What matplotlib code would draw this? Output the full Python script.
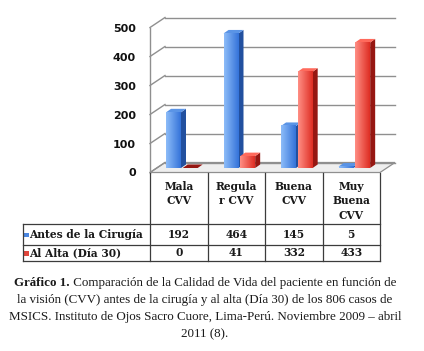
import matplotlib
matplotlib.use("Agg")
import numpy as np
import matplotlib.pyplot as plt
from matplotlib.patches import Polygon, Rectangle
from matplotlib.lines import Line2D
from matplotlib.colors import LinearSegmentedColormap
import matplotlib.transforms as mtransforms

# ---------------- data ----------------
categories = ["Mala\nCVV", "Regula\nr CVV", "Buena\nCVV", "Muy\nBuena\nCVV"]
series_names = ["Antes de la Cirugía", "Al Alta (Día 30)"]
antes = [192, 464, 145, 5]
alta = [0, 41, 332, 433]
yticks = [0, 100, 200, 300, 400, 500]
caption_bold = "Gráfico 1."
caption_lines = [
    " Comparación de la Calidad de Vida del paciente en función de",
    "la visión (CVV) antes de la cirugía y al alta (Día 30) de los 806 casos de",
    "MSICS. Instituto de Ojos Sacro Cuore, Lima-Perú. Noviembre 2009 – abril",
    "2011 (8).",
]

# ---------------- figure ----------------
W, H = 424, 351
fig = plt.figure(figsize=(W / 100, H / 100), dpi=100)
fig.patch.set_facecolor("white")
front0 = 172.5
ax = fig.add_axes([150 / W, (H - front0) / H, 230 / W, 145 / H])
ax.set_xlim(0, 4)
ax.set_ylim(0, 500)
ax.set_autoscale_on(False)
ax.patch.set_visible(False)
for s in ax.spines.values():
    s.set_visible(False)
ax.set_xticks([])
ax.set_yticks(yticks)
ax.set_yticklabels([str(v) for v in yticks], fontsize=8, fontweight="bold",
                   family="DejaVu Sans", color="#111111")
ax.tick_params(axis="y", length=0, pad=10)

PXT = mtransforms.Affine2D().scale(1, -1).translate(0, H)  # figure pixels (y down)
IDT = mtransforms.IdentityTransform()

def disp(xd, yd, dx=0.0, dy=0.0):
    p = ax.transData.transform((xd, yd))
    return (p[0] + dx, p[1] + dy)

BX, BY = 15, 10      # back wall offset
PX_, PY_ = 8, 4.5    # bar plane offset
DX, DY = 5, 3.5      # bar depth
grid_c = "#8f8f8f"

# floor
floor = Polygon([disp(0, 0), disp(4, 0), disp(4, 0, BX, BY), disp(0, 0, BX, BY)],
                closed=True, transform=IDT, facecolor="#eeeeee", edgecolor=grid_c,
                lw=0.9, zorder=1, clip_on=False)
ax.add_patch(floor)

# gridlines (back wall + left diagonals)
for v in yticks:
    ax.add_line(Line2D(*zip(disp(0, v, BX, BY), disp(4, v, BX, BY)), transform=IDT,
                       color=grid_c, lw=1.0, zorder=1.5, clip_on=False))
    ax.add_line(Line2D(*zip(disp(0, v), disp(0, v, BX, BY)), transform=IDT,
                       color=grid_c, lw=1.0, zorder=1.5, clip_on=False))
ax.add_line(Line2D(*zip(disp(0, 0), disp(0, 500)), transform=IDT,
                   color=grid_c, lw=1.0, zorder=1.5, clip_on=False))

# bars
series = [antes, alta]
offsets = [0.14, 0.43]
bw = 0.26
styles = [
    dict(c0="#8dbcf8", c1="#3473da", side="#22509f", top="#5a94e6", key="#4a86e0"),
    dict(c0="#ff8e84", c1="#de2e24", side="#961712", top="#ff6a5c", key="#e0463c"),
]
bar_tr = ax.transData + mtransforms.Affine2D().translate(PX_, PY_)
grad = np.linspace(0, 1, 64)[None, :]
for i in range(len(categories)):
    for s, vals in enumerate(series):
        v = vals[i]
        st = styles[s]
        x0 = i + offsets[s]
        x1 = x0 + bw
        z = 3 + i * 2 + s
        side = Polygon([disp(x1, 0, PX_, PY_), disp(x1, v, PX_, PY_),
                        disp(x1, v, PX_ + DX, PY_ + DY), disp(x1, 0, PX_ + DX, PY_ + DY)],
                       closed=True, transform=IDT, facecolor=st["side"], edgecolor="none",
                       zorder=z, clip_on=False)
        ax.add_patch(side)
        top = Polygon([disp(x0, v, PX_, PY_), disp(x1, v, PX_, PY_),
                       disp(x1, v, PX_ + DX, PY_ + DY), disp(x0, v, PX_ + DX, PY_ + DY)],
                      closed=True, transform=IDT, facecolor=st["top"] if v > 0 else st["side"],
                      edgecolor="none", zorder=z, clip_on=False)
        ax.add_patch(top)
        if v > 0:
            cmap = LinearSegmentedColormap.from_list("g", [st["c0"], st["c1"]])
            im = ax.imshow(grad, extent=[x0, x1, 0, v], aspect="auto", cmap=cmap,
                           interpolation="bilinear", transform=bar_tr, zorder=z + 0.5)
            im.set_clip_on(False)
ax.set_xlim(0, 4)
ax.set_ylim(0, 500)

# ---------------- data table ----------------
xcol = [disp(i, 0)[0] for i in range(5)]
tl = "#3c3c3c"
y_head_top, y_head_bot, y_r1, y_r2 = 172.5, 223.5, 244.5, 260.5
x_left = 23

def fline(xs, ys):
    fig.add_artist(Line2D(xs, ys, transform=PXT, color=tl, lw=0.9))

for xc in xcol:
    fline([xc, xc], [y_head_top, y_r2])
fline([x_left, x_left], [y_head_bot, y_r2])
for yy in (y_head_bot, y_r1, y_r2):
    fline([x_left, xcol[-1]], [yy, yy])

tfont = dict(family="DejaVu Serif", fontweight="bold", fontsize=7.7, color="#1a1a1a")
for i, cat in enumerate(categories):
    xc = (xcol[i] + xcol[i + 1]) / 2
    fig.text(xc, 180.5, cat, transform=PXT, ha="center", va="top",
             linespacing=1.42, **tfont)
row_y = [(y_head_bot + y_r1) / 2 + 0.5, (y_r1 + y_r2) / 2 + 0.5]
for s, vals in enumerate(series):
    for i, v in enumerate(vals):
        xc = (xcol[i] + xcol[i + 1]) / 2
        fig.text(xc, row_y[s], str(v), transform=PXT, ha="center", va="center", **tfont)
    fig.add_artist(Rectangle((24, row_y[s] - 2), 4.5, 4.5, transform=PXT,
                             facecolor=styles[s]["key"], edgecolor="none"))
    fig.text(29, row_y[s], series_names[s], transform=PXT, ha="left", va="center", **tfont)

# ---------------- caption ----------------
cfont = dict(family="Liberation Serif", fontsize=9.4, color="#1a1a1a")
renderer = fig.canvas.get_renderer()
cx = 205
line_y = [283, 300, 317, 334]
tb = fig.text(0, line_y[0], caption_bold, transform=PXT, ha="left", va="center",
              fontweight="bold", **cfont)
tr = fig.text(0, line_y[0], caption_lines[0], transform=PXT, ha="left", va="center", **cfont)
wb = tb.get_window_extent(renderer).width
wr = tr.get_window_extent(renderer).width
x0 = cx - (wb + wr) / 2
tb.set_x(x0)
tr.set_x(x0 + wb)
for k in range(1, 4):
    fig.text(cx, line_y[k], caption_lines[k], transform=PXT, ha="center", va="center", **cfont)

fig.savefig("out.png", dpi=100)
